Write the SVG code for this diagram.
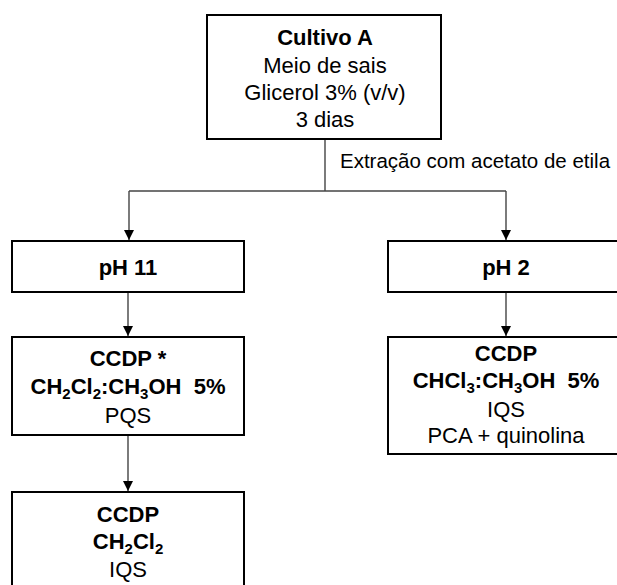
<svg xmlns="http://www.w3.org/2000/svg" width="617" height="585" viewBox="0 0 617 585">
<style>
.box{fill:#fff;stroke:#000;stroke-width:2}
text{font-family:"Liberation Sans",Arial,sans-serif;font-size:22px;fill:#000;text-anchor:middle}
.b{font-weight:bold}
.lbl{text-anchor:start;font-size:20.5px}
.con{fill:none;stroke:#444;stroke-width:1.4}
.sub{font-size:15px}
</style>
<defs>
<marker id="ah" markerUnits="userSpaceOnUse" markerWidth="12" markerHeight="12" refX="10" refY="5" orient="auto">
<path d="M0,0 L10,5 L0,10 Z" fill="#000"/>
</marker>
</defs>
<g id="connectors">
<path class="con" d="M325,139 V191"/>
<path class="con" d="M129,191 H506"/>
<path class="con" d="M129,191 V240" marker-end="url(#ah)"/>
<path class="con" d="M506,191 V240" marker-end="url(#ah)"/>
<path class="con" d="M128,292 V336" marker-end="url(#ah)"/>
<path class="con" d="M506,292 V336" marker-end="url(#ah)"/>
<path class="con" d="M128,435 V491" marker-end="url(#ah)"/>
<text class="lbl" x="340" y="168">Extração com acetato de etila</text>
</g>
<g id="cultivo">
<rect class="box" x="207" y="15" width="234" height="124"/>
<text class="b" x="325" y="45">Cultivo A</text>
<text x="325" y="73">Meio de sais</text>
<text x="325" y="100">Glicerol 3% (v/v)</text>
<text x="325" y="127">3 dias</text>
</g>
<g id="ph11">
<rect class="box" x="12" y="241" width="232" height="51"/>
<text class="b" x="128" y="275">pH 11</text>
</g>
<g id="ph2">
<rect class="box" x="388" y="241" width="240" height="51"/>
<text class="b" x="506" y="275">pH 2</text>
</g>
<g id="ccdp1">
<rect class="box" x="12" y="337" width="232" height="98"/>
<text class="b" x="128" y="366">CCDP *</text>
<text class="b" x="128" y="394" xml:space="preserve">CH<tspan class="sub" dy="5">2</tspan><tspan dy="-5">Cl</tspan><tspan class="sub" dy="5">2</tspan><tspan dy="-5">:CH</tspan><tspan class="sub" dy="5">3</tspan><tspan dy="-5">OH  5%</tspan></text>
<text x="128" y="423">PQS</text>
</g>
<g id="ccdp2">
<rect class="box" x="388" y="337" width="240" height="117"/>
<text class="b" x="506" y="361">CCDP</text>
<text class="b" x="506" y="388" xml:space="preserve">CHCl<tspan class="sub" dy="5">3</tspan><tspan dy="-5">:CH</tspan><tspan class="sub" dy="5">3</tspan><tspan dy="-5">OH  5%</tspan></text>
<text x="506" y="417">IQS</text>
<text x="506" y="443">PCA + quinolina</text>
</g>
<g id="ccdp3">
<rect class="box" x="12" y="492" width="232" height="110"/>
<text class="b" x="128" y="522">CCDP</text>
<text class="b" x="128" y="549">CH<tspan class="sub" dy="5">2</tspan><tspan dy="-5">Cl</tspan><tspan class="sub" dy="5">2</tspan></text>
<text x="128" y="577">IQS</text>
</g>
</svg>
